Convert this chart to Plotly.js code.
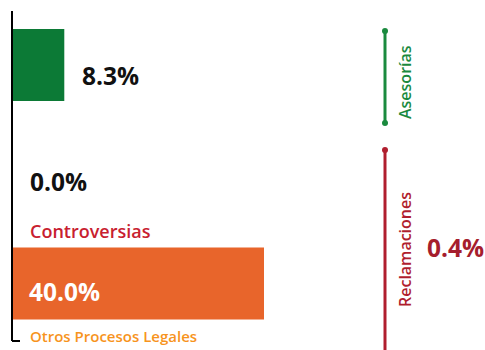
<!DOCTYPE html>
<html><head><meta charset="utf-8">
<script src="https://cdn.plot.ly/plotly-3.0.1.min.js"></script>
<style>html,body{margin:0;padding:0;background:#fff}#c{width:485px;height:350px}</style>
</head><body><div id="c"></div>
<script>
const categories = ["Asesorías", "Controversias", "Otros Procesos Legales"];
const values = [8.3, 0.0, 40.0];
const valueLabels = ["8.3%", "0.0%", "40.0%"];
const groupLabels = ["Asesorías", "Reclamaciones"];
const groupValue = "0.4%";
const barColors = ["#0c7a36", "#e8652b", "#e8652b"];

const W = 485, H = 350, L = 12;
const px = x => (x - L) / (W - L);
const py = y => (H - y) / H;

const trace = {
  type: "bar", orientation: "h",
  x: values, y: categories,
  width: 0.66,
  marker: {color: barColors},
  hoverinfo: "skip"
};

const font = "Open Sans, sans-serif";
const ann = [
  {x: values[0], y: categories[0], text: valueLabels[0], xanchor: "left", xshift: 16, yshift: -10,
   font: {family: font, size: 24.5, color: "#111", weight: 700}},
  {x: values[1], y: categories[1], text: valueLabels[1], xanchor: "left", xshift: 16, yshift: -7,
   font: {family: font, size: 24.5, color: "#111", weight: 700}},
  {x: values[1], y: categories[1], text: categories[1], xanchor: "left", xshift: 16, yshift: -57,
   font: {family: font, size: 18, color: "#c8202f", weight: 600}},
  {x: 0, y: categories[2], text: valueLabels[2], xanchor: "left", xshift: 15, yshift: -8,
   font: {family: font, size: 24.5, color: "#fff", weight: 700}},
  {x: 0, y: categories[2], text: categories[2], xanchor: "left", xshift: 16, yshift: -53,
   font: {family: font, size: 15, color: "#f7941d", weight: 600}},
  {xref: "paper", yref: "paper", x: px(405), y: py(82), text: groupLabels[0], textangle: -90,
   xanchor: "center", yanchor: "middle", font: {family: font, size: 16, color: "#1a8a3e", weight: 600}},
  {xref: "paper", yref: "paper", x: px(405), y: py(250), text: groupLabels[1], textangle: -90,
   xanchor: "center", yanchor: "middle", font: {family: font, size: 16, color: "#b01e2e", weight: 600}},
  {xref: "paper", yref: "paper", x: px(455), y: py(247), text: groupValue,
   xanchor: "center", yanchor: "middle", font: {family: font, size: 24.5, color: "#a51d2d", weight: 700}}
].map(a => Object.assign({showarrow: false}, a));

const shapes = [
  {type: "line", xref: "paper", yref: "paper", x0: 0, x1: 0, y0: py(11), y1: py(341), line: {color: "#000", width: 2}},
  {type: "line", xref: "paper", yref: "paper", x0: 0, x1: px(20), y0: py(341), y1: py(341), line: {color: "#000", width: 2}},
  {type: "line", xref: "paper", yref: "paper", x0: px(385), x1: px(385), y0: py(31), y1: py(123), line: {color: "#1a8a3e", width: 3}},
  {type: "line", xref: "paper", yref: "paper", x0: px(385), x1: px(385), y0: py(150), y1: py(352), line: {color: "#b01e2e", width: 3}},
  {type: "circle", xref: "paper", yref: "paper", x0: px(382), x1: px(388), y0: py(28), y1: py(34), fillcolor: "#1a8a3e", line: {width: 0}},
  {type: "circle", xref: "paper", yref: "paper", x0: px(382), x1: px(388), y0: py(120), y1: py(126), fillcolor: "#1a8a3e", line: {width: 0}},
  {type: "circle", xref: "paper", yref: "paper", x0: px(382), x1: px(388), y0: py(147), y1: py(153), fillcolor: "#b01e2e", line: {width: 0}}
];

const layout = {
  width: W, height: H,
  margin: {l: L, r: 0, t: 0, b: 0, pad: 0},
  paper_bgcolor: "#fff", plot_bgcolor: "#fff",
  showlegend: false,
  xaxis: {range: [0, (W - L) / 6.3], visible: false, fixedrange: true},
  yaxis: {type: "category", range: [2 + (H - 283.5) / 109, -65 / 109], visible: false, fixedrange: true},
  annotations: ann,
  shapes: shapes
};

Plotly.newPlot("c", [trace], layout, {staticPlot: true, displayModeBar: false});
</script></body></html>
